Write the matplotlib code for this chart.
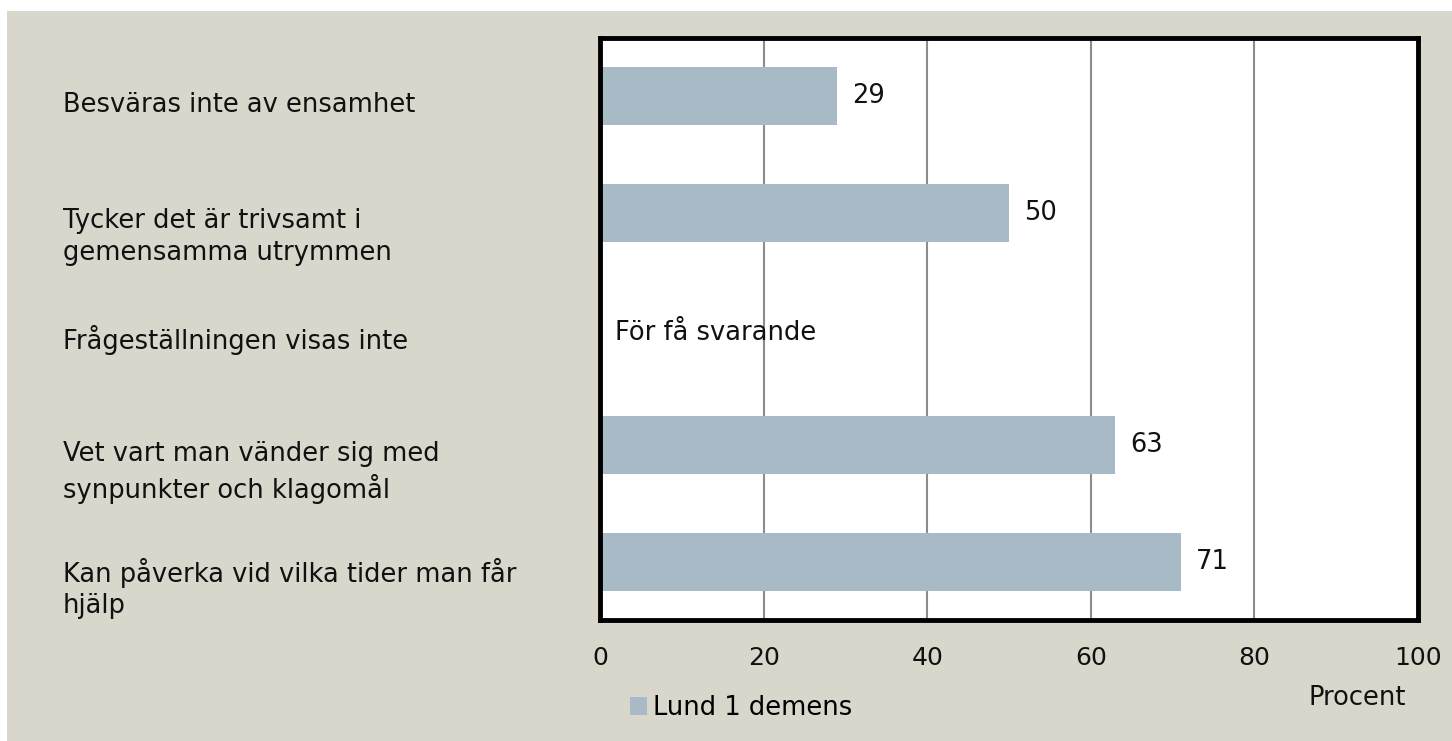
import matplotlib.pyplot as plt
import numpy as np
from matplotlib.patches import Rectangle, Patch

# data
categories = [
    "Besväras inte av ensamhet",
    "Tycker det är trivsamt i\ngemensamma utrymmen",
    "Frågeställningen visas inte",
    "Vet vart man vänder sig med\nsynpunkter och klagomål",
    "Kan påverka vid vilka tider man får\nhjälp",
]
values = [29, 50, None, 63, 71]
missing_note = "För få svarande"
series_name = "Lund 1 demens"
x_ticks = [0, 20, 40, 60, 80, 100]
x_unit = "Procent"

bar_color = "#A7BAC5"
bg_color = "#D9D7CB"
font = "DejaVu Sans"
fs = 18.5
txt_color = "#111111"

W, H = 1452, 741
fig = plt.figure(figsize=(W / 100, H / 100), dpi=100)
fig.patch.set_facecolor("white")
fig.add_artist(Rectangle((7 / W, 0), 1 - 7 / W, (H - 11) / H,
                         transform=fig.transFigure, facecolor=bg_color,
                         edgecolor="none", zorder=0))

ax = fig.add_axes([600 / W, (H - 620) / H, 818 / W, 582 / H])
ax.set_facecolor("white")

for i, v in enumerate(values):
    if v is None:
        ax.annotate(missing_note, xy=(1.8, i), xytext=(0, -3),
                    textcoords="offset points", va="center", ha="left",
                    fontsize=fs, family=font, color=txt_color)
        continue
    ax.barh(i, v, height=0.5, color=bar_color, zorder=2)
    ax.text(v + 1.8, i, str(v), va="center", ha="left",
            fontsize=fs, family=font, color=txt_color)

ax.set_xlim(0, 100)
ax.set_ylim(len(categories) - 0.5, -0.5)
ax.set_xticks(x_ticks)
ax.set_xticklabels([str(t) for t in x_ticks], fontsize=18, family=font, color=txt_color)
ax.tick_params(axis="x", length=0, pad=19)
ax.set_yticks([])
ax.xaxis.grid(True, color="#8C8C8C", linewidth=1.5, zorder=1)
ax.set_axisbelow(True)
for s in ax.spines.values():
    s.set_linewidth(3.5)
    s.set_color("black")

# category labels, first line near bar centre
for i, lab in enumerate(categories):
    ax.annotate(lab, xy=(63 / W, i), xycoords=("figure fraction", "data"),
                xytext=(0, 3), textcoords="offset points",
                va="top", ha="left", fontsize=fs, family=font,
                color=txt_color, linespacing=1.28, annotation_clip=False)

fig.text(1357 / W, (H - 698) / H, x_unit, ha="center", va="center",
         fontsize=fs, family=font, color=txt_color)

fig.legend(handles=[Patch(facecolor=bar_color, label=series_name)],
           loc="center left", bbox_to_anchor=(630 / W, (H - 708) / H),
           frameon=False, borderpad=0, borderaxespad=0,
           handlelength=0.65, handleheight=0.65, handletextpad=0.25,
           prop={"family": font, "size": fs})

fig.savefig("out.png", dpi=100)
